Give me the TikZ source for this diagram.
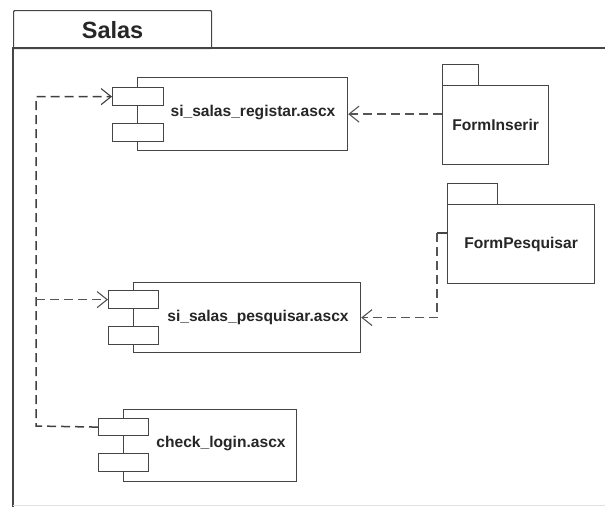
\documentclass[tikz,border=0pt]{standalone}
\usepackage{fontspec}
\setmainfont{Liberation Sans}
\usetikzlibrary{arrows.meta}
\definecolor{edge}{HTML}{454545}
\definecolor{dep}{HTML}{555555}
\begin{document}
\begin{tikzpicture}[x=1pt,y=-1pt,
  box/.style={draw=edge,line width=1.2pt,fill=white,inner sep=0pt,anchor=north west},
  lbl/.style={font=\fontsize{15.6}{18}\selectfont\bfseries,text=black!85,inner sep=0pt},
  depline/.style={draw=dep,line width=1.5pt,dash pattern=on 9pt off 5pt},
  deparrow/.style={depline,-{Straight Barb[length=10pt,width=16pt,line width=1.1pt]}}]
\useasboundingbox (0,0) rectangle (605,507);
% outer package
\node[box,minimum width=198pt,minimum height=38pt,rounded corners=1pt] (tab) at (13,10) {};
\node[font=\fontsize{23.5}{26}\selectfont\bfseries,text=black!85] (title) at (tab.center) {Salas};
\draw[edge,line width=1.3pt] (605,48) -- (13,48) -- (13,507);
\draw[black!12,line width=0.8pt] (13,505.5) -- (605,505.5);
% component 1
\node[box,minimum width=210pt,minimum height=73pt] (c1) at (137,77) {};
\node[box,minimum width=51pt,minimum height=18pt] (s1a) at (112,87) {};
\node[box,minimum width=51pt,minimum height=18pt] (s1b) at (112,123) {};
\node[lbl] (l1) at (253,112) {si\_salas\_registar.ascx};
% component 2
\node[box,minimum width=227pt,minimum height=70pt] (c2) at (133,282) {};
\node[box,minimum width=50pt,minimum height=18pt] (s2a) at (108,290) {};
\node[box,minimum width=50pt,minimum height=18pt] (s2b) at (108,326) {};
\node[lbl] (l2) at (258,317) {si\_salas\_pesquisar.ascx};
% component 3
\node[box,minimum width=173pt,minimum height=72pt] (c3) at (123,409) {};
\node[box,minimum width=50pt,minimum height=17pt] (s3a) at (98,418) {};
\node[box,minimum width=50pt,minimum height=18pt] (s3b) at (98,453) {};
\node[lbl] (l3) at (221,443) {check\_login.ascx};
% FormInserir package
\node[box,minimum width=36pt,minimum height=21pt] (fitab) at (442,64) {};
\node[box,minimum width=106pt,minimum height=79pt] (fi) at (442,85) {};
\node[lbl] (fil) at (fi.center) {FormInserir};
% FormPesquisar package
\node[box,minimum width=50pt,minimum height=21pt] (fptab) at (447,183) {};
\node[box,minimum width=147pt,minimum height=79pt] (fp) at (447,204) {};
\node[lbl] (fpl) at (fp.center) {FormPesquisar};
% connectors
\coordinate (fiout) at (fi.west |- c1.east);
\draw[deparrow] (fiout) -- (c1.east);
\coordinate (fpout) at (447,233);
\coordinate (fpbend) at (437,233);
\draw[edge,line width=1.1pt] (fpout) -- (fpbend);
\draw[deparrow] (fpbend) |- (c2.east);
\coordinate (corner) at (36,426);
\coordinate (branch) at (corner |- s2a.west);
\draw[deparrow,draw=black!75] (s3a.west) -- (corner) -- (branch) |- (s1a.west);
\draw[deparrow] (branch) -- (s2a.west);
\end{tikzpicture}
\end{document}
